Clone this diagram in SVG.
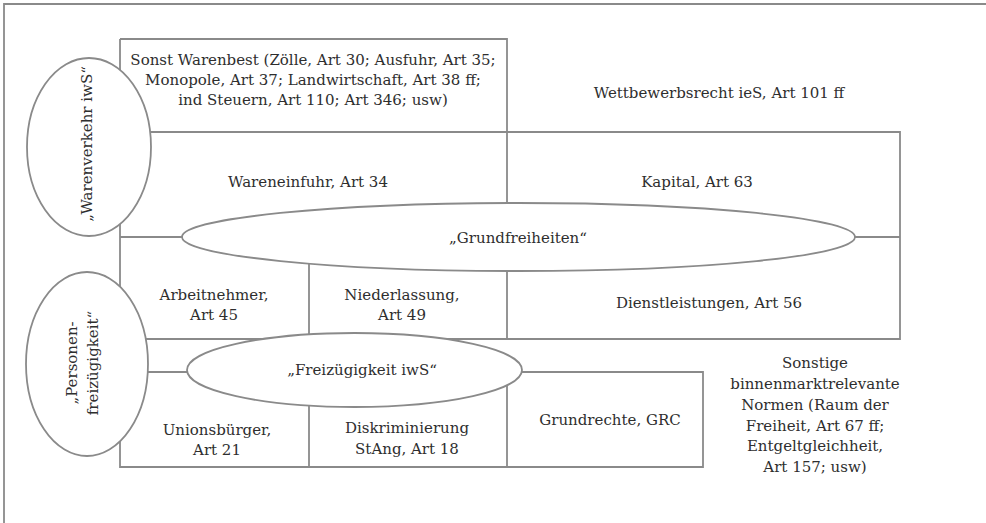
<svg xmlns="http://www.w3.org/2000/svg" width="986" height="523" viewBox="0 0 986 523">
<style>
.ln{fill:none;stroke:#8a8a8a;stroke-width:1.8}
.el{fill:#fff;stroke:#8a8a8a;stroke-width:1.8}
text{font-family:"DejaVu Serif","Liberation Serif",serif;font-size:15px;fill:#2e2e2e;text-anchor:middle}
</style>
<rect width="986" height="523" fill="#fff"/>
<g id="connectors">
<path class="ln" d="M4,523 V4 H990"/>
<path class="ln" d="M120,39 H507 V339 M120,39 V467 H703 V372 H120 M120,132 H900 V339 H120 M120,237 H900 M309,237 V467 M507,372 V467"/>
</g>
<g id="sonst"><text x="313" y="65">Sonst Warenbest (Zölle, Art 30; Ausfuhr, Art 35;</text><text x="313" y="85">Monopole, Art 37; Landwirtschaft, Art 38 ff;</text><text x="313" y="105">ind Steuern, Art 110; Art 346; usw)</text></g>
<g id="wettbewerb"><text x="719" y="98">Wettbewerbsrecht ieS, Art 101 ff</text></g>
<g id="wareneinfuhr"><text x="308" y="187">Wareneinfuhr, Art 34</text></g>
<g id="kapital"><text x="697" y="187">Kapital, Art 63</text></g>
<g id="arbeitnehmer"><text x="214" y="300">Arbeitnehmer,</text><text x="214" y="320">Art 45</text></g>
<g id="niederlassung"><text x="402" y="300">Niederlassung,</text><text x="402" y="320">Art 49</text></g>
<g id="dienstleistungen"><text x="709" y="308">Dienstleistungen, Art 56</text></g>
<g id="unionsbuerger"><text x="217" y="435">Unionsbürger,</text><text x="217" y="455">Art 21</text></g>
<g id="diskriminierung"><text x="407" y="433">Diskriminierung</text><text x="407" y="454">StAng, Art 18</text></g>
<g id="grundrechte"><text x="610" y="425">Grundrechte, GRC</text></g>
<g id="sonstige"><text x="815" y="368">Sonstige</text><text x="815" y="389">binnenmarktrelevante</text><text x="815" y="410">Normen (Raum der</text><text x="815" y="431">Freiheit, Art 67 ff;</text><text x="815" y="451">Entgeltgleichheit,</text><text x="815" y="472">Art 157; usw)</text></g>
<g id="grundfreiheiten"><ellipse class="el" cx="518.5" cy="237" rx="336.5" ry="34"/><text x="518" y="243">„Grundfreiheiten“</text></g>
<g id="freizuegigkeit"><ellipse class="el" cx="354.5" cy="370" rx="167.5" ry="37"/><text x="362" y="375">„Freizügigkeit iwS“</text></g>
<g id="warenverkehr"><ellipse class="el" cx="89" cy="147" rx="62" ry="89"/><text transform="translate(92,144) rotate(-90)">„Warenverkehr iwS“</text></g>
<g id="personen"><ellipse class="el" cx="87" cy="364" rx="61" ry="92"/><text transform="translate(77,363) rotate(-90)">„Personen-</text><text transform="translate(98,363) rotate(-90)">freizügigkeit“</text></g>
</svg>
